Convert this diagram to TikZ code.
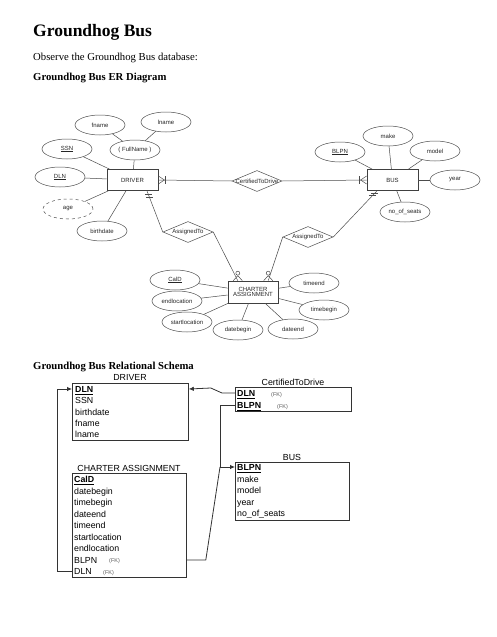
\documentclass[tikz,border=0pt]{standalone}
\usepackage{fontspec}
\setmainfont{Liberation Serif}
\newfontfamily\arialf{Liberation Sans}
\usetikzlibrary{shapes.geometric,calc,arrows.meta}
\newcommand\ERfont{\arialf\fontsize{6}{7}\selectfont}
\newcommand\TBfont{\arialf\fontsize{8.8}{10}\selectfont}
\newcommand\FKfont{\arialf\fontsize{5.5}{6}\selectfont}
\begin{document}
\begin{tikzpicture}[x=1pt,y=-1pt,
  erline/.style={draw=black!70,line width=0.5pt},
  attr/.style={ellipse,draw=black!70,line width=0.5pt,minimum width=50pt,minimum height=20pt,inner sep=0pt,font=\ERfont,text=black!85},
  entbox/.style={rectangle,draw=black!75,line width=0.7pt,minimum width=51pt,minimum height=21pt,inner sep=0pt,font=\ERfont,align=center,text=black!85},
  relbox/.style={diamond,draw=black!70,line width=0.5pt,minimum width=50pt,minimum height=21pt,inner sep=0pt,font=\ERfont},
  heading/.style={anchor=base west,inner sep=0pt,font=\fontsize{10.7}{12}\selectfont\bfseries},
  tbox/.style={rectangle,draw=black!80,line width=0.8pt,anchor=north west,inner sep=0pt},
  ttitle/.style={anchor=base,inner sep=0pt,font=\TBfont},
  trow/.style={anchor=base west,inner sep=0pt,font=\TBfont},
  fk/.style={anchor=base west,inner sep=0pt,font=\FKfont,text=black!65},
  rline/.style={draw=black!80,line width=0.8pt},
  rarrow/.style={rline,-{Latex[length=5pt,width=4.5pt]}}]
\fill[white] (0,0) rectangle (497,637);
\useasboundingbox (0,0) rectangle (497,637);

% headings
\node[anchor=base west,inner sep=0pt,font=\fontsize{17.5}{20}\selectfont\bfseries] (title) at (33,36) {Groundhog Bus};
\node[anchor=base west,inner sep=0pt,font=\fontsize{10.7}{12}\selectfont] (obs) at (33,60) {Observe the Groundhog Bus database:};
\node[heading] (erh) at (33,80) {Groundhog Bus ER Diagram};
\node[heading] (rsh) at (33,369) {Groundhog Bus Relational Schema};

% ===== ER diagram =====
\node[entbox] (driver) at (132.5,180) {DRIVER};
\node[entbox] (bus) at (392.5,180) {BUS};
\node[entbox,minimum width=50pt,minimum height=22pt] (charter) at (253,292) {CHARTER\\[-1.5pt]ASSIGNMENT};

\node[relbox,label={center:{\ERfont\color{black!85}CertifiedToDrive}}] (cert) at (257,181) {};
\node[relbox,label={center:{\ERfont\color{black!85}AssignedTo}}] (assL) at (188,232) {};
\node[relbox,label={center:{\ERfont\color{black!85}AssignedTo}}] (assR) at (308,237) {};

\node[attr] (fname) at (100,125) {fname};
\node[attr] (lname) at (166,122) {lname};
\node[attr] (full) at (135,150) {( FullName )};
\node[attr] (ssn) at (67,149) {\underline{SSN}};
\node[attr] (dln) at (60,177) {\underline{DLN}};
\node[attr,dashed] (age) at (68,209) {age};
\node[attr] (birth) at (102,231) {birthdate};

\node[attr] (blpn) at (340,152) {\underline{BLPN}};
\node[attr] (make) at (388,136) {make};
\node[attr] (model) at (435,151) {model};
\node[attr] (year) at (455,180) {year};
\node[attr] (seats) at (405,212) {no\_of\_seats};

\node[attr] (cald) at (175,280) {\underline{CalD}};
\node[attr] (endl) at (177,301) {endlocation};
\node[attr] (startl) at (187,322) {startlocation};
\node[attr] (dateb) at (238,330) {datebegin};
\node[attr] (datee) at (293,329) {dateend};
\node[attr] (timee) at (314,283) {timeend};
\node[attr] (timeb) at (324,310) {timebegin};

% attribute links
\draw[erline] (fname) -- (full);
\draw[erline] (lname) -- (full);
\draw[erline] (full) -- (driver);
\draw[erline] (ssn) -- (driver);
\draw[erline] (dln) -- (driver);
\draw[erline] (age) -- (driver);
\draw[erline] (birth) -- (driver);
\draw[erline] (blpn) -- (bus);
\draw[erline] (make) -- (bus);
\draw[erline] (model) -- (bus);
\draw[erline] (year) -- (bus);
\draw[erline] (seats) -- (bus);
\draw[erline] (cald) -- (charter);
\draw[erline] (endl) -- (charter);
\draw[erline] (startl) -- (charter);
\draw[erline] (dateb) -- (charter);
\draw[erline] (datee) -- (charter);
\draw[erline] (timee) -- (charter);
\draw[erline] (timeb) -- (charter);

% CertifiedToDrive relationship
\draw[erline] (driver.east) -- (cert.west);
\draw[erline] (cert.east) -- (bus.west);
\draw[erline] ($(driver.east)+(0,-4)$) -- ($(driver.east)+(6,0)$) -- ($(driver.east)+(0,4)$);
\draw[erline] ($(driver.east)+(7,-4)$) -- ($(driver.east)+(7,4)$);
\draw[erline] ($(bus.west)+(0,-4)$) -- ($(bus.west)+(-6,0)$) -- ($(bus.west)+(0,4)$);
\draw[erline] ($(bus.west)+(-7,-4)$) -- ($(bus.west)+(-7,4)$);

% AssignedTo relationships
\coordinate (dA) at ($(driver.south west)!0.78!(driver.south east)$);
\coordinate (bA) at ($(bus.south west)!0.2!(bus.south east)$);
\coordinate (cA) at ($(charter.north west)!0.2!(charter.north east)$);
\coordinate (cB) at ($(charter.north west)!0.8!(charter.north east)$);
\draw[erline] (dA) -- (assL.west);
\draw[erline] (assL.east) -- (cA);
\draw[erline] (bA) -- (assR.east);
\draw[erline] (assR.west) -- (cB);
\path (dA) -- (assL.west) coordinate[pos=0.09] (dA1) coordinate[pos=0.16] (dA2);
\draw[erline] ($(dA1)+(-3.5,0)$) -- ($(dA1)+(3.5,0)$);
\draw[erline] ($(dA2)+(-3.5,0)$) -- ($(dA2)+(3.5,0)$);
\path (bA) -- (assR.east) coordinate[pos=0.055] (bA1) coordinate[pos=0.105] (bA2);
\draw[erline] ($(bA1)+(-3.5,0)$) -- ($(bA1)+(3.5,0)$);
\draw[erline] ($(bA2)+(-3.5,0)$) -- ($(bA2)+(3.5,0)$);
\foreach \p in {cA,cB}{
  \draw[erline] ($(\p)+(-4.5,0)$) -- ($(\p)+(0,-5)$) -- ($(\p)+(4.5,0)$);
  \draw[erline,fill=white] ($(\p)+(0,-7.5)$) circle[radius=2pt];
}

% ===== Relational schema =====
\node[tbox,minimum width=116pt,minimum height=57pt] (drvBox) at (72,383) {};
\node[ttitle] (drvT) at (130,380.5) {DRIVER};
\node[trow] (drvDLN) at (75,392.5) {\textbf{\underline{DLN}}};
\node[trow] (drvSSN) at (75,403.5) {SSN};
\node[trow] (drvBD) at (75,415) {birthdate};
\node[trow] (drvFN) at (75,426.5) {fname};
\node[trow] (drvLN) at (75,437.5) {lname};

\node[tbox,minimum width=116pt,minimum height=24pt] (certBox) at (235,387) {};
\node[ttitle] (certT) at (293,385.5) {CertifiedToDrive};
\node[trow] (certDLN) at (237,396.5) {\textbf{\underline{DLN}}};
\node[fk] (certFK1) at (271,396) {(FK)};
\node[trow] (certBLPN) at (237,408.5) {\textbf{\underline{BLPN}}};
\node[fk] (certFK2) at (277,408) {(FK)};

\node[tbox,minimum width=114pt,minimum height=58pt] (busBox) at (235,462) {};
\node[ttitle] (busT) at (292,460.5) {BUS};
\node[trow] (busBLPN) at (237,470.5) {\textbf{\underline{BLPN}}};
\node[trow] (busMake) at (237,482) {make};
\node[trow] (busModel) at (237,493.5) {model};
\node[trow] (busYear) at (237,505) {year};
\node[trow] (busSeats) at (237,516.5) {no\_of\_seats};

\node[tbox,minimum width=114pt,minimum height=104pt] (chBox) at (72,473) {};
\node[ttitle] (chT) at (129,471.5) {CHARTER ASSIGNMENT};
\node[trow] (chCalD) at (74,482.5) {\textbf{\underline{CalD}}};
\node[trow] (chDB) at (74,494) {datebegin};
\node[trow] (chTB) at (74,505.5) {timebegin};
\node[trow] (chDE) at (74,517) {dateend};
\node[trow] (chTE) at (74,528.5) {timeend};
\node[trow] (chSL) at (74,540) {startlocation};
\node[trow] (chEL) at (74,551.5) {endlocation};
\node[trow] (chBLPN) at (74,563) {BLPN};
\node[fk] (chFK1) at (109,562.5) {(FK)};
\node[trow] (chDLN) at (74,574.5) {DLN};
\node[fk] (chFK2) at (103,574) {(FK)};

% foreign key connectors
\coordinate (yDrvDLN) at (0,389);
\coordinate (yCertDLN) at (0,393);
\coordinate (yCertBLPN) at (0,405);
\coordinate (yBusBLPN) at (0,467);
\coordinate (yChBLPN) at (0,560);
\coordinate (yChDLN) at (0,571);
\draw[rarrow] (chBox.west |- yChDLN) -- ++(-15,0) |- (drvBox.west |- yDrvDLN);
\draw[rarrow] (certBox.west |- yCertDLN) -- ++(-13,0) -- ($(drvBox.east |- yDrvDLN)+(22,-1)$) -- (drvBox.east |- yDrvDLN);
\draw[rarrow] (certBox.west |- yCertBLPN) -- ++(-15,0) |- (busBox.west |- yBusBLPN);
\draw[rline] (chBox.east |- yChBLPN) -- ++(19,0) -- ($(busBox.west |- yBusBLPN)+(-15,0)$);
\end{tikzpicture}
\end{document}
